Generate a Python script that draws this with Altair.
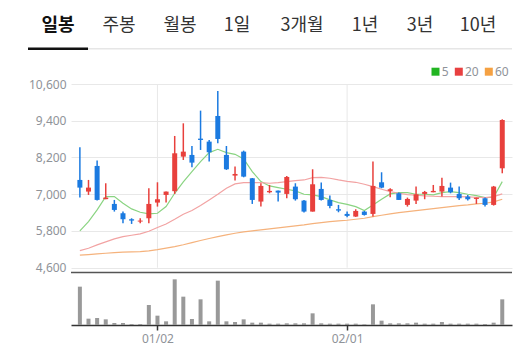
import altair as alt
import pandas as pd

# ---------------- data ----------------
dates = ["2023-12-15", "2023-12-18", "2023-12-19", "2023-12-20", "2023-12-21", "2023-12-22",
         "2023-12-26", "2023-12-27", "2023-12-28",
         "2024-01-02", "2024-01-03", "2024-01-04", "2024-01-05", "2024-01-08", "2024-01-09",
         "2024-01-10", "2024-01-11", "2024-01-12", "2024-01-15", "2024-01-16", "2024-01-17",
         "2024-01-18", "2024-01-19", "2024-01-22", "2024-01-23", "2024-01-24", "2024-01-25",
         "2024-01-26", "2024-01-29", "2024-01-30", "2024-01-31",
         "2024-02-01", "2024-02-02", "2024-02-05", "2024-02-06", "2024-02-07", "2024-02-08",
         "2024-02-13", "2024-02-14", "2024-02-15", "2024-02-16", "2024-02-19", "2024-02-20",
         "2024-02-21", "2024-02-22", "2024-02-23", "2024-02-26", "2024-02-27", "2024-02-28",
         "2024-02-29"]

opens = [7467, 7086, 7924, 6840, 6683, 6379, 6183, 6107, 6215, 6727,
         6977, 7100, 8228, 8283, 8816, 8718, 9556, 8283, 7608, 8391,
         7521, 6760, 7064, 7118, 7010, 7249, 6792, 6433, 7173, 6814,
         6509, 6357, 6270, 6433, 6357, 7390, 7108, 7031, 6651, 6792,
         7010, 7064, 7086, 7216, 7010, 6923, 6846, 6868, 6651, 7847]
highs = [8533, 7467, 8098, 7358, 6814, 6433, 6215, 6215, 7195, 7390,
         7090, 8903, 9316, 8576, 9730, 8772, 10371, 8576, 7902, 8424,
         7530, 7358, 7303, 7120, 7597, 7358, 6814, 7815, 7379, 6955,
         6651, 6433, 6509, 6455, 8065, 7717, 7195, 7053, 6890, 7249,
         7108, 7303, 7542, 7379, 7249, 6977, 6890, 6890, 7271, 9447]
lows = [6890, 6977, 6792, 6836, 6433, 6052, 6030, 6052, 6052, 6596,
        6727, 7010, 8119, 7880, 8446, 8065, 8663, 7793, 7445, 7553,
        6683, 6596, 7031, 6760, 6868, 6792, 6400, 6433, 6792, 6542,
        6411, 6248, 6260, 6303, 6270, 7195, 6901, 6814, 6596, 6683,
        6836, 7064, 6923, 7031, 6814, 6792, 6683, 6596, 6629, 7684]
closes = [7216, 7216, 6814, 6890, 6487, 6183, 6139, 6139, 6683, 6836,
          7086, 8337, 8391, 8032, 8772, 8370, 8805, 7815, 7662, 7575,
          6814, 7271, 7108, 7053, 7564, 6836, 6433, 7325, 6814, 6618,
          6466, 6292, 6455, 6324, 7271, 7216, 7162, 6814, 6846, 6999,
          7075, 7108, 7271, 7064, 6868, 6836, 6890, 6651, 7249, 9425]

ma5 = [5802, 6107, 6487, 6923, 6923, 6705, 6520, 6411, 6357, 6379,
       6596, 7031, 7400, 7738, 8065, 8359, 8468, 8359, 8304, 8152,
       7738, 7412, 7271, 7216, 7162, 7108, 6999, 6977, 6923, 6814,
       6727, 6670, 6596, 6466, 6651, 6836, 7010, 7053, 7053, 6999,
       6999, 6977, 7053, 7086, 7053, 6999, 6955, 6890, 6901, 7412]
ma20 = [5160, 5236, 5345, 5443, 5541, 5617, 5661, 5704, 5791, 5911,
        6030, 6183, 6346, 6466, 6629, 6814, 6999, 7195, 7336, 7379,
        7379, 7379, 7358, 7379, 7412, 7445, 7466, 7542, 7553, 7521,
        7466, 7420, 7390, 7325, 7249, 7162, 7086, 7031, 6988, 6966,
        6945, 6934, 6923, 6923, 6923, 6912, 6901, 6890, 6923, 7010]
ma60 = [5008, 5030, 5051, 5073, 5095, 5106, 5117, 5127, 5149, 5190,
        5240, 5290, 5350, 5420, 5490, 5555, 5617, 5672, 5726, 5770,
        5802, 5835, 5868, 5900, 5933, 5966, 5998, 6041, 6074, 6107,
        6128, 6150, 6183, 6215, 6270, 6313, 6357, 6400, 6433, 6466,
        6498, 6531, 6563, 6596, 6629, 6651, 6683, 6705, 6748, 6836]

volumes = [115, 19, 21, 17, 6, 6, 3, 3, 60, 28,
           11, 137, 85, 18, 77, 11, 133, 11, 9, 17,
           7, 7, 4, 4, 5, 5, 5, 35, 5, 4,
           4, 4, 4, 2, 62, 13, 5, 5, 5, 7,
           4, 4, 9, 4, 4, 4, 4, 3, 7, 77]

tabs = ["일봉", "주봉", "월봉", "1일", "3개월", "1년", "3년", "10년"]
ma_labels = ["5", "20", "60"]
price_ticks = [4600, 5800, 7000, 8200, 9400, 10600]
date_tick_dates = ["2024-01-02", "2024-02-01"]
date_tick_labels = ["01/02", "02/01"]

# ---------------- styling / layout ----------------
RED = "#e8403c"
BLUE = "#1b7ae0"
MA_COLORS = ["#8ad482", "#f2a3a3", "#f5b27c"]
LEG_COLORS = ["#22b522", "#e84040", "#f5a142"]
GRID = "#e8e8e8"
LABEL = "#8f9399"
W, H = 441, 241
PRICE_DOMAIN = [2729, 10600]
VOL_DOMAIN = [0, 723]
tab_px = [-13, 48, 109, 166, 231, 294, 349, 407]
leg_sq_px = [364.5, 387.8, 417.8]
leg_tx_px = [370.7, 394, 424]

n = len(dates)
df = pd.DataFrame({
    "idx": list(range(n)), "date": dates, "open": opens, "high": highs,
    "low": lows, "close": closes, "vol": volumes,
})
ma_df = pd.DataFrame({
    "idx": list(range(n)) * 3,
    "ma": ma5 + ma20 + ma60,
    "series": ["5"] * n + ["20"] * n + ["60"] * n,
})
tick_idx = [dates.index(d) for d in date_tick_dates]
vgrid_df = pd.DataFrame({"idx": tick_idx, "lo": [price_ticks[0]] * len(tick_idx),
                         "hi": [price_ticks[-1]] * len(tick_idx)})
label_expr = " : ".join(
    [f"datum.value == {i} ? '{l}'" for i, l in zip(tick_idx, date_tick_labels)]
) + " : ''"

xs = alt.Scale(domain=[-0.45, n - 0.45], nice=False, zero=False)
ps = alt.Scale(domain=PRICE_DOMAIN, nice=False, zero=False)
vs = alt.Scale(domain=VOL_DOMAIN, nice=False, zero=False)

x_axis = alt.Axis(values=tick_idx, labelExpr=label_expr, grid=False, domainColor="#333333",
                  domainWidth=1.5, tickColor="#333333", tickWidth=1.5, tickSize=5,
                  labelColor=LABEL, labelFontSize=12, labelPadding=3, title=None,
                  labelFont="Noto Sans")
y_axis = alt.Axis(values=price_ticks, labelExpr="format(datum.value, ',')", grid=True,
                  gridColor=GRID, domain=False, ticks=False, labelColor=LABEL,
                  labelFontSize=12, labelPadding=5, title=None, labelFont="Noto Sans")

color_cond = alt.condition("datum.close >= datum.open", alt.value(RED), alt.value(BLUE))
X = alt.X("idx:Q", scale=xs, axis=x_axis)

vgrid = alt.Chart(vgrid_df).mark_rule(color=GRID, strokeWidth=1).encode(
    x=X,
    y=alt.Y("lo:Q", scale=ps, axis=y_axis),
    y2="hi:Q",
)
wicks = alt.Chart(df).mark_rule(strokeWidth=1.5).encode(
    x=X,
    y=alt.Y("low:Q", scale=ps, axis=y_axis),
    y2="high:Q",
    color=color_cond,
)
bodies = alt.Chart(df).mark_bar(size=5).encode(
    x=X,
    y=alt.Y("open:Q", scale=ps, axis=y_axis),
    y2="close:Q",
    color=color_cond,
)
ma_lines = alt.Chart(ma_df).mark_line(strokeWidth=1.2).encode(
    x=X,
    y=alt.Y("ma:Q", scale=ps, axis=y_axis),
    color=alt.Color("series:N", scale=alt.Scale(domain=ma_labels, range=MA_COLORS), legend=None),
)
price_layer = alt.layer(vgrid, ma_lines, wicks, bodies)

vol_bars = alt.Chart(df).mark_bar(size=4, color="#999999").encode(
    x=X,
    y=alt.Y("vol:Q", scale=vs, axis=None),
    y2=alt.datum(0),
)

sep = alt.Chart(pd.DataFrame({"a": [0]})).mark_rule(color="#555555", strokeWidth=1.5).encode(
    x=alt.value(0), x2=alt.value(W), y=alt.value(188.5)
)

# header tabs
tab_df = pd.DataFrame({"t": tabs, "px": tab_px, "active": [True] + [False] * (len(tabs) - 1)})
tab_active = alt.Chart(tab_df).transform_filter("datum.active").mark_text(
    font="Noto Sans CJK KR", fontSize=18, fontWeight="bold", color="#111111",
    baseline="middle", align="center").encode(
    x=alt.X("px:Q", scale=None), y=alt.value(-58), text="t:N")
tab_other = alt.Chart(tab_df).transform_filter("!datum.active").mark_text(
    font="Noto Sans CJK KR", fontSize=18, color="#333333",
    baseline="middle", align="center").encode(
    x=alt.X("px:Q", scale=None), y=alt.value(-58), text="t:N")
under_gray = alt.Chart(pd.DataFrame({"a": [0]})).mark_rule(color="#e6e6e6", strokeWidth=1.5).encode(
    x=alt.value(17), x2=alt.value(W), y=alt.value(-35.2))
under_black = alt.Chart(pd.DataFrame({"a": [0]})).mark_rule(color="#111111", strokeWidth=2.5).encode(
    x=alt.value(-43), x2=alt.value(17), y=alt.value(-35.2))

# legend
leg_df = pd.DataFrame({"s": ma_labels, "sx": leg_sq_px, "tx": leg_tx_px})
leg_sq = alt.Chart(leg_df).mark_square(size=64, opacity=1).encode(
    x=alt.X("sx:Q", scale=None), y=alt.value(-12.3),
    color=alt.Color("s:N", scale=alt.Scale(domain=ma_labels, range=LEG_COLORS), legend=None))
leg_tx = alt.Chart(leg_df).mark_text(font="Noto Sans", fontSize=12, color=LABEL,
                                     align="left", baseline="middle").encode(
    x=alt.X("tx:Q", scale=None), y=alt.value(-12.3), text="s:N")

chart = alt.layer(
    price_layer, vol_bars, sep, tab_active, tab_other, under_gray, under_black, leg_sq, leg_tx
).resolve_scale(y="independent", color="independent").properties(
    width=W, height=H,
    autosize=alt.AutoSizeParams(type="none"),
    padding={"left": 63, "top": 76, "right": 3, "bottom": 26},
).configure_view(stroke=None)

chart.save("out.html", embed_options={"renderer": "svg", "actions": False})
